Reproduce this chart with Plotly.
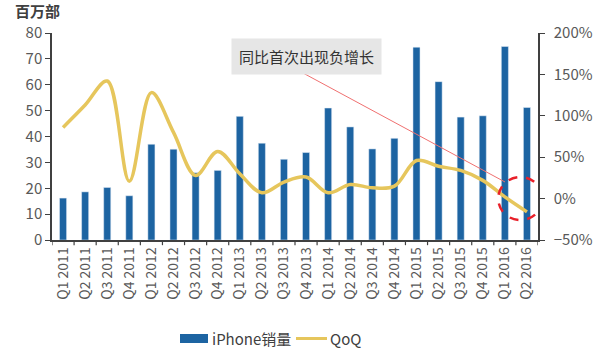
import plotly.graph_objects as go

categories = ["Q1 2011","Q2 2011","Q3 2011","Q4 2011","Q1 2012","Q2 2012","Q3 2012","Q4 2012",
              "Q1 2013","Q2 2013","Q3 2013","Q4 2013","Q1 2014","Q2 2014","Q3 2014","Q4 2014",
              "Q1 2015","Q2 2015","Q3 2015","Q4 2015","Q1 2016","Q2 2016"]
sales = [16.2, 18.6, 20.3, 17.1, 37.0, 35.1, 26.0, 26.9, 47.8, 37.4, 31.2, 33.8,
         51.0, 43.7, 35.2, 39.3, 74.5, 61.2, 47.5, 48.0, 74.8, 51.2]
qoq = [86, 113, 142, 21, 128, 80, 28, 57, 30, 7, 20, 26,
       7, 17, 13, 15, 46, 39, 34, 22, 2, -16]

idx = list(range(len(categories)))
font = "Noto Sans CJK SC, Noto Sans, sans-serif"
gray = "#595959"
blue = "#1D64A2"
gold = "#E6C65C"

fig = go.Figure()
fig.add_trace(go.Bar(x=idx, y=sales, name="iPhone销量", marker_color=blue,
                     width=0.32, yaxis="y"))
fig.add_trace(go.Scatter(x=idx, y=qoq, name="QoQ", mode="lines", yaxis="y2",
                         line=dict(color=gold, width=3.5, shape="spline", smoothing=1.0)))

fig.update_layout(
    width=600, height=353,
    margin=dict(l=52, r=62, t=33, b=113, autoexpand=False),
    plot_bgcolor="white", paper_bgcolor="white",
    font=dict(family=font, color=gray),
    showlegend=False,
    xaxis=dict(tickmode="array", tickvals=idx, ticktext=categories, tickangle=-90,
               range=[-0.5, len(categories) - 0.5], showline=True, linecolor="#404040",
               linewidth=1.5, ticks="", showgrid=False, zeroline=False, automargin=False,
               tickfont=dict(size=14, color=gray)),
    yaxis=dict(range=[0, 80], dtick=10, showline=True, linecolor="#404040", linewidth=1.5,
               ticks="outside", ticklen=5, tickcolor="#404040", showgrid=False, zeroline=False,
               automargin=False, tickfont=dict(size=15, color=gray)),
    yaxis2=dict(range=[-50, 200], dtick=50, overlaying="y", side="right", ticksuffix="%",
                showline=True, linecolor="#404040", linewidth=1.5, ticks="outside", ticklen=5,
                tickcolor="#404040", showgrid=False, zeroline=False, automargin=False,
                ticklabelstandoff=6, tickfont=dict(size=15, color=gray)),
)

# category boundary tick marks on x axis
for i in range(len(categories) + 1):
    fig.add_shape(type="line", xref="x", yref="paper", x0=i - 0.5, x1=i - 0.5, y0=0, y1=-0.025,
                  line=dict(color="#404040", width=1.2))

def px(x):
    return (x - 52) / 486
def py(y):
    return (240 - y) / 207

fig.add_annotation(text="<b>百万部</b>", xref="paper", yref="paper", x=px(13), y=py(11),
                   xanchor="left", yanchor="middle", showarrow=False,
                   font=dict(size=15, color="#404040", family=font))

fig.add_annotation(text="同比首次出现负增长", xref="paper", yref="paper", x=px(306), y=py(56),
                   xanchor="center", yanchor="middle",
                   showarrow=False, bgcolor="#E6E6E6", borderpad=7,
                   font=dict(size=15, color="#333333", family=font))

fig.add_shape(type="line", xref="paper", yref="paper", x0=px(303), y0=py(73),
              x1=px(505), y1=py(182), line=dict(color="#F07070", width=1))

fig.add_shape(type="circle", xref="x", yref="y2", x0=19.7, x1=21.7, y0=-26, y1=26,
              line=dict(color="#E8202A", width=2.5, dash="dash"))

# manual legend
fig.add_shape(type="rect", xref="paper", yref="paper", x0=px(180), x1=px(208),
              y0=py(343), y1=py(334), fillcolor=blue, line=dict(width=0))
fig.add_annotation(text="iPhone销量", xref="paper", yref="paper", x=px(210), y=py(338.5),
                   xanchor="left", yanchor="middle", showarrow=False,
                   font=dict(size=15, color="#404040", family=font))
fig.add_shape(type="line", xref="paper", yref="paper", x0=px(296), x1=px(327),
              y0=py(338.5), y1=py(338.5), line=dict(color=gold, width=3))
fig.add_annotation(text="QoQ", xref="paper", yref="paper", x=px(328), y=py(338.5),
                   xanchor="left", yanchor="middle", showarrow=False,
                   font=dict(size=15, color="#404040", family=font))

fig.write_html("out.html")
